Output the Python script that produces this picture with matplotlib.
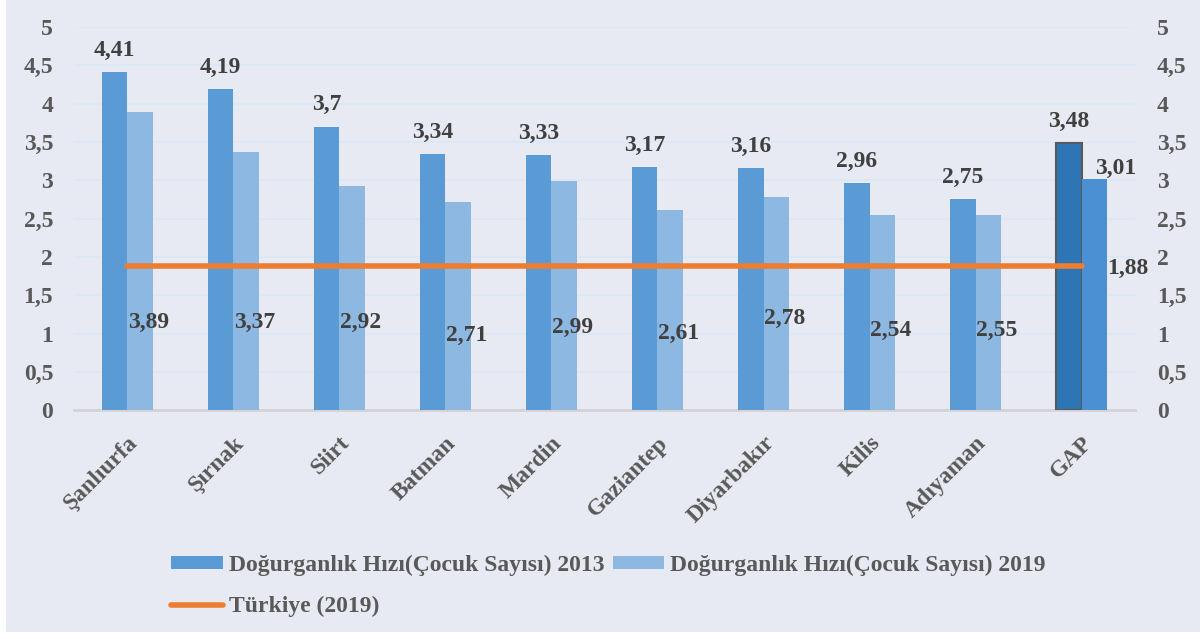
import matplotlib
matplotlib.use("Agg")
from matplotlib import pyplot as plt
from matplotlib.patches import Rectangle
import numpy as np

plt.rcParams['font.family'] = ['Liberation Serif', 'DejaVu Serif']
plt.rcParams['font.weight'] = 'bold'

provinces = ['Şanlıurfa', 'Şırnak', 'Siirt', 'Batman', 'Mardin',
             'Gaziantep', 'Diyarbakır', 'Kilis', 'Adıyaman', 'GAP']
rate_2013 = [4.41, 4.19, 3.70, 3.34, 3.33, 3.17, 3.16, 2.96, 2.75, 3.48]
rate_2019 = [3.89, 3.37, 2.92, 2.71, 2.99, 2.61, 2.78, 2.54, 2.55, 3.01]
turkiye_2019 = 1.88

label_2013 = 'Doğurganlık Hızı(Çocuk Sayısı) 2013'
label_2019 = 'Doğurganlık Hızı(Çocuk Sayısı) 2019'
label_tr = 'Türkiye (2019)'

# where the 2019 value labels sit in the original (they float inside the bars)
label_y_2019 = [1.14, 1.14, 1.15, 0.98, 1.08, 1.00, 1.20, 1.04, 1.04]

def fmt(v):
    return ('%g' % v).replace('.', ',')

bg = '#E8EAF3'
c13 = '#5B9BD5'
c19 = '#8DB8E2'
c_gap13 = '#2E75B6'
c_gap19 = '#4A90D2'
orange = '#ED7D31'
txt = '#404040'
tick_c = '#595959'

fig = plt.figure(figsize=(12, 6.39), dpi=100)
fig.patch.set_facecolor('white')
fig.patches.append(Rectangle((0.005, 0.011), 0.995, 0.989, transform=fig.transFigure,
                             facecolor=bg, edgecolor='none', zorder=-10))

ax = fig.add_axes([0.0617, 0.358, 0.884, 0.6])
ax.patch.set_alpha(0)

x = np.arange(len(provinces))
w = 0.24
cols13 = [c13] * (len(provinces) - 1) + [c_gap13]
cols19 = [c19] * (len(provinces) - 1) + [c_gap19]
edges13 = ['none'] * (len(provinces) - 1) + ['#595959']
b13 = ax.bar(x - w / 2, rate_2013, w, color=cols13, edgecolor=edges13, linewidth=1.5, zorder=3)
b19 = ax.bar(x + w / 2, rate_2019, w, color=cols19, zorder=3)
line, = ax.plot(x, [turkiye_2019] * len(x), color=orange, lw=4, solid_capstyle='round', zorder=4)

ax.set_xlim(-0.5, len(provinces) - 0.5)
ax.set_ylim(0, 5)
yt = np.arange(0, 5.01, 0.5)
ax.set_yticks(yt)
ax.set_yticklabels([fmt(v) for v in yt])
ax.grid(axis='y', color='#DCE8F6', lw=1.3, zorder=0)
ax.set_axisbelow(True)
for s in ['top', 'right', 'left']:
    ax.spines[s].set_visible(False)
ax.spines['bottom'].set_color('#D3D3D6')
ax.spines['bottom'].set_linewidth(2)
ax.tick_params(axis='y', length=0, labelsize=17, labelcolor=tick_c, pad=15)
ax.tick_params(axis='x', length=0, labelsize=17, labelcolor=tick_c, pad=16)
ax.set_xticks(x)
ax.set_xticklabels(provinces, rotation=45, ha='right', rotation_mode='anchor')
for lab in ax.get_xticklabels():
    lab.set_x(lab.get_position()[0])

ax2 = ax.twinx()
ax2.set_ylim(0, 5)
ax2.set_yticks(yt)
ax2.set_yticklabels([fmt(v) for v in yt])
ax2.tick_params(axis='y', length=0, labelsize=17, labelcolor=tick_c, pad=16)
for s in ax2.spines.values():
    s.set_visible(False)

# value labels
for i, v in enumerate(rate_2013):
    ax.annotate(fmt(v), (x[i] - w / 2, v), xytext=(0, 8), textcoords='offset points',
                ha='center', va='bottom', fontsize=17, color=txt, zorder=5)
for i, v in enumerate(rate_2019[:-1]):
    ax.text(x[i] + w / 2 + 0.08, label_y_2019[i], fmt(v), ha='center', va='center',
            fontsize=17, color=txt, zorder=5)
ax.annotate(fmt(rate_2019[-1]), (x[-1] + w / 2, rate_2019[-1]), xytext=(15, 0),
            textcoords='offset points', ha='center', va='bottom', fontsize=17, color=txt, zorder=5)
ax.annotate(fmt(turkiye_2019), (x[-1], turkiye_2019), xytext=(33, -2),
            textcoords='offset points', ha='center', va='center', fontsize=17, color=txt, zorder=5)

handles = [b13, line, b19]
labels = [label_2013, label_tr, label_2019]
leg = fig.legend(handles, labels, ncol=2, loc='center', bbox_to_anchor=(0.507, 0.083),
                 frameon=False, fontsize=17, handlelength=2.2, handleheight=0.5,
                 handletextpad=0.25, columnspacing=0.35, labelspacing=0.85)
for t in leg.get_texts():
    t.set_color(tick_c)

fig.savefig('out.png', dpi=100, facecolor=fig.get_facecolor())
